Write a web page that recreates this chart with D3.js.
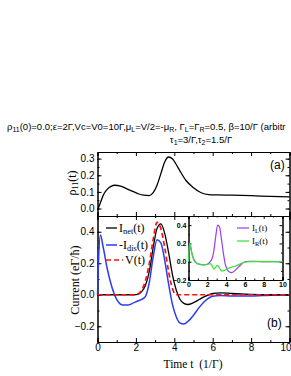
<!DOCTYPE html>
<html><head><meta charset="utf-8">
<script src="https://cdn.jsdelivr.net/npm/d3@7"></script>
<style>body{margin:0;background:#fff}svg{display:block}</style>
</head><body>
<svg id="c" width="291" height="376"></svg>
<script>
// ---- data ----
const rhoT = [0,0.1,0.2,0.3,0.5,0.7,0.9,1.2,1.5,1.8,2.1,2.4,2.7,2.9,3.1,3.3,3.5,3.7,3.9,4.1,4.3,4.6,5.0,5.4,5.8,6.2,7,8,9,10];
const rho  = [-0.01,0.02,0.05,0.08,0.115,0.133,0.14,0.135,0.12,0.105,0.09,0.08,0.078,0.095,0.14,0.21,0.28,0.31,0.30,0.265,0.225,0.17,0.125,0.095,0.084,0.082,0.08,0.077,0.073,0.07];

const tB   = [0,0.05,0.15,0.3,0.5,0.7,1.0,1.3,1.6,1.9,2.1,2.3,2.5,2.7,2.9,3.1,3.3,3.5,3.7,3.9,4.1,4.3,4.5,4.7,5.0,5.3,5.6,6.0,6.4,7,8,9,10];
const iNet = [0,0,0,0,0,0,0,0,0,0,0.003,0.02,0.06,0.15,0.3,0.42,0.45,0.39,0.27,0.13,0.03,-0.03,-0.055,-0.062,-0.05,-0.03,-0.01,0.008,0.012,0.008,0.002,0,0];
const iDis = [0,0.2,0.38,0.3,0.17,0.07,-0.03,-0.065,-0.065,-0.05,-0.04,-0.03,-0.01,0.08,0.24,0.35,0.33,0.22,0.07,-0.06,-0.14,-0.18,-0.185,-0.17,-0.13,-0.08,-0.04,-0.01,-0.005,-0.008,-0.008,-0.003,0];
const vT   = [0,0,0,0,0,0,0,0,0,0,0.005,0.03,0.09,0.2,0.35,0.46,0.42,0.3,0.15,0.04,0,0,0,0,0,0,0,0,0,0,0,0,0];

const tI = [0,0.05,0.15,0.3,0.5,0.8,1.2,1.6,2.0,2.3,2.5,2.7,2.9,3.1,3.3,3.5,3.7,3.9,4.1,4.3,4.6,4.9,5.2,5.6,6.0,6.5,7,8,9,10];
const iL = [0,0.12,0.2,0.12,0.04,-0.01,-0.03,-0.035,-0.03,0.0,0.03,0.12,0.28,0.4,0.38,0.25,0.1,-0.02,-0.08,-0.11,-0.12,-0.1,-0.07,-0.03,0,0.005,0.005,0,0,0];
const iR = [0,0.12,0.2,0.12,0.04,-0.01,-0.03,-0.035,-0.03,-0.02,-0.04,-0.08,-0.06,-0.04,-0.07,-0.1,-0.1,-0.09,-0.08,-0.07,-0.06,-0.05,-0.04,-0.02,-0.005,0,0,0,0,0];

const xTicks = [0,2,4,6,8,10];
const rhoTicks = [0.0,0.1,0.2,0.3];
const curTicks = [-0.2,0.0,0.2,0.4];
const insYTicks = [-0.2,0.0,0.2,0.4];

// ---- layout ----
const svg = d3.select("#c");
const L = 97.5, R = 289.5;
const aTop = 152, aBot = 216, bBot = 342;
const x = d3.scaleLinear().domain([0,10]).range([L,R]);
const ya = d3.scaleLinear().domain([-0.045,0.34]).range([aBot,aTop]);
const yb = d3.scaleLinear().domain([-0.3,0.5]).range([bBot,aBot]);
const xi = d3.scaleLinear().domain([0,10]).range([188.5,282.5]);
const yi = d3.scaleLinear().domain([-0.2,0.5]).range([280,216]);

const tickFont = "Arial, 'Liberation Sans', sans-serif";
const serif = "'Times New Roman','Liberation Serif',serif";

function frame(xs, ys, opt){
  const [x0,x1] = xs.range(), [y0,y1] = ys.range();
  const g = svg.append("g");
  const fs = opt.fs, maj = opt.maj, mn = opt.mn;
  const addAxis = (axis, tr) => {
    const a = g.append("g").attr("transform", tr).call(axis);
    a.select(".domain").attr("stroke","#000").attr("stroke-width",1);
    a.selectAll(".tick line").attr("stroke","#000");
    a.selectAll("text").attr("font-family",tickFont).attr("font-size",fs).attr("fill","#000");
    return a;
  };
  addAxis(d3.axisBottom(xs).tickValues(opt.xMinor).tickSize(-mn).tickFormat(""), `translate(0,${y0})`);
  addAxis(d3.axisTop(xs).tickValues(opt.xMinor).tickSize(-mn).tickFormat(""), `translate(0,${y1})`);
  addAxis(d3.axisLeft(ys).tickValues(opt.yMinor).tickSize(-mn).tickFormat(""), `translate(${x0},0)`);
  addAxis(d3.axisRight(ys).tickValues(opt.yMinor).tickSize(-mn).tickFormat(""), `translate(${x1},0)`);
  const bx = addAxis(d3.axisBottom(xs).tickValues(xTicks).tickSize(-maj).tickPadding(opt.xpad).tickFormat(opt.xLab?d3.format("d"):""), `translate(0,${y0})`);
  addAxis(d3.axisTop(xs).tickValues(xTicks).tickSize(-maj).tickFormat(""), `translate(0,${y1})`);
  addAxis(d3.axisLeft(ys).tickValues(opt.yTicks).tickSize(-maj).tickPadding(opt.ypad).tickFormat(d3.format(".1f")), `translate(${x0},0)`);
  addAxis(d3.axisRight(ys).tickValues(opt.yTicks).tickSize(-maj).tickFormat(""), `translate(${x1},0)`);
  return {g, bx};
}

function minorVals(a,b,s){const r=[];for(let v=a;v<=b+1e-9;v+=s)r.push(+v.toFixed(3));return r;}

// panel (a)
frame(x, ya, {fs:10, maj:4, mn:2, xMinor:minorVals(1,9,2), yMinor:minorVals(-0.05,0.35,0.05).filter(v=>v>=-0.045&&v<=0.34), yTicks:rhoTicks, xLab:false, xpad:3, ypad:3});
// panel (b)
const fb = frame(x, yb, {fs:10, maj:4, mn:2, xMinor:minorVals(1,9,2), yMinor:minorVals(-0.3,0.5,0.1), yTicks:curTicks, xLab:true, xpad:2, ypad:3});
fb.bx.selectAll(".tick text").filter(d=>d===10).attr("text-anchor","end").attr("dx",1.5);

const line = (xs,ys,tt,vv) => d3.line().x((d,i)=>xs(tt[i])).y(d=>ys(d)).curve(d3.curveMonotoneX)(vv);

svg.append("path").attr("d", line(x,ya,rhoT,rho)).attr("fill","none").attr("stroke","#000").attr("stroke-width",1.3);

svg.append("path").attr("d", line(x,yb,tB,iDis)).attr("fill","none").attr("stroke","#2b3bf5").attr("stroke-width",1.5);
svg.append("path").attr("d", line(x,yb,tB,iNet)).attr("fill","none").attr("stroke","#000").attr("stroke-width",1.3);
svg.append("path").attr("d", line(x,yb,tB,vT)).attr("fill","none").attr("stroke","#ff1010").attr("stroke-width",1.7).attr("stroke-dasharray","5,3");

// inset
svg.append("rect").attr("x",xi(0)).attr("y",yi(0.5)).attr("width",xi(10)-xi(0)).attr("height",yi(-0.2)-yi(0.5)).attr("fill","#fff");
const fi = frame(xi, yi, {fs:7, maj:3, mn:1.5, xMinor:minorVals(1,9,2), yMinor:minorVals(-0.1,0.5,0.2), yTicks:insYTicks, xLab:true, xpad:2, ypad:2});
fi.g.selectAll("text").attr("font-weight","bold");
svg.append("path").attr("d", line(xi,yi,tI,iL)).attr("fill","none").attr("stroke","#9a3cf0").attr("stroke-width",1.2);
svg.append("path").attr("d", line(xi,yi,tI,iR)).attr("fill","none").attr("stroke","#36e036").attr("stroke-width",1.2);

// legends
function legText(xp, yp, parts, fs){
  const t = svg.append("text").attr("x",xp).attr("y",yp).attr("font-family",serif).attr("font-size",fs).attr("fill","#000");
  parts.forEach(p=>{
    const s = t.append("tspan").text(p[0]);
    if(p[1]==="sub") s.attr("baseline-shift","-25%").attr("font-size",fs*0.7);
  });
}
const legRows = [
  {y:228, c:"#000", dash:null, parts:[["I"],["net","sub"],["(t)"]], w:1.3, len:11},
  {y:245, c:"#2b3bf5", dash:null, parts:[["-I"],["dis","sub"],["(t)"]], w:1.5, len:11},
  {y:260, c:"#ff1010", dash:"5,3", parts:[["V(t)"]], w:1.7, len:17}
];
legRows.forEach(r=>{
  svg.append("line").attr("x1",106).attr("x2",106+r.len).attr("y1",r.y).attr("y2",r.y).attr("stroke",r.c).attr("stroke-width",r.w).attr("stroke-dasharray",r.dash);
  legText(106+r.len+2, r.y+4, r.parts, 12);
});
[{y:228,c:"#9a3cf0",parts:[["I"],["L","sub"],["(t)"]]},{y:241,c:"#36e036",parts:[["I"],["R","sub"],["(t)"]]}].forEach(r=>{
  svg.append("line").attr("x1",237).attr("x2",249).attr("y1",r.y).attr("y2",r.y).attr("stroke",r.c).attr("stroke-width",1.2);
  legText(252, r.y+3, r.parts, 9);
});

// panel labels
svg.append("text").attr("x",270).attr("y",169).attr("font-family",tickFont).attr("font-size",12).text("(a)");
svg.append("text").attr("x",267).attr("y",327).attr("font-family",tickFont).attr("font-size",12).text("(b)");

// axis titles
const ra = svg.append("text").attr("transform","translate(76,183) rotate(-90)").attr("text-anchor","middle").attr("font-family",serif).attr("font-size",12);
ra.append("tspan").text("ρ"); ra.append("tspan").attr("baseline-shift","-25%").attr("font-size",8).text("11"); ra.append("tspan").text("(t)");
svg.append("text").attr("transform","translate(79,280) rotate(-90)").attr("text-anchor","middle").attr("font-family",serif).attr("font-size",12).text("Current (eΓ/ħ)");
svg.append("text").attr("x",193).attr("y",368).attr("text-anchor","middle").attr("font-family",serif).attr("font-size",11.5).attr("xml:space","preserve").text("Time t  (1/Γ)");

// title
const t1 = svg.append("text").attr("x",7).attr("y",130).attr("font-family",tickFont).attr("font-size",9.5);
[["ρ"],["11","sub"],["(0)=0.0;ε=2Γ,Vc=V0=10Γ,μ"],["L","sub"],["=V/2=-μ"],["R","sub"],[", Γ"],["L","sub"],["=Γ"],["R","sub"],["=0.5, β=10/Γ (arbitr"]].forEach(p=>{
  const s=t1.append("tspan").text(p[0]); if(p[1]) s.attr("baseline-shift","-25%").attr("font-size",7);
});
const t2 = svg.append("text").attr("x",201).attr("y",143).attr("text-anchor","middle").attr("font-family",tickFont).attr("font-size",9.5);
[["τ"],["1","sub"],["=3/Γ,τ"],["2","sub"],["=1.5/Γ"]].forEach(p=>{
  const s=t2.append("tspan").text(p[0]); if(p[1]) s.attr("baseline-shift","-25%").attr("font-size",7);
});
</script>
</body></html>
